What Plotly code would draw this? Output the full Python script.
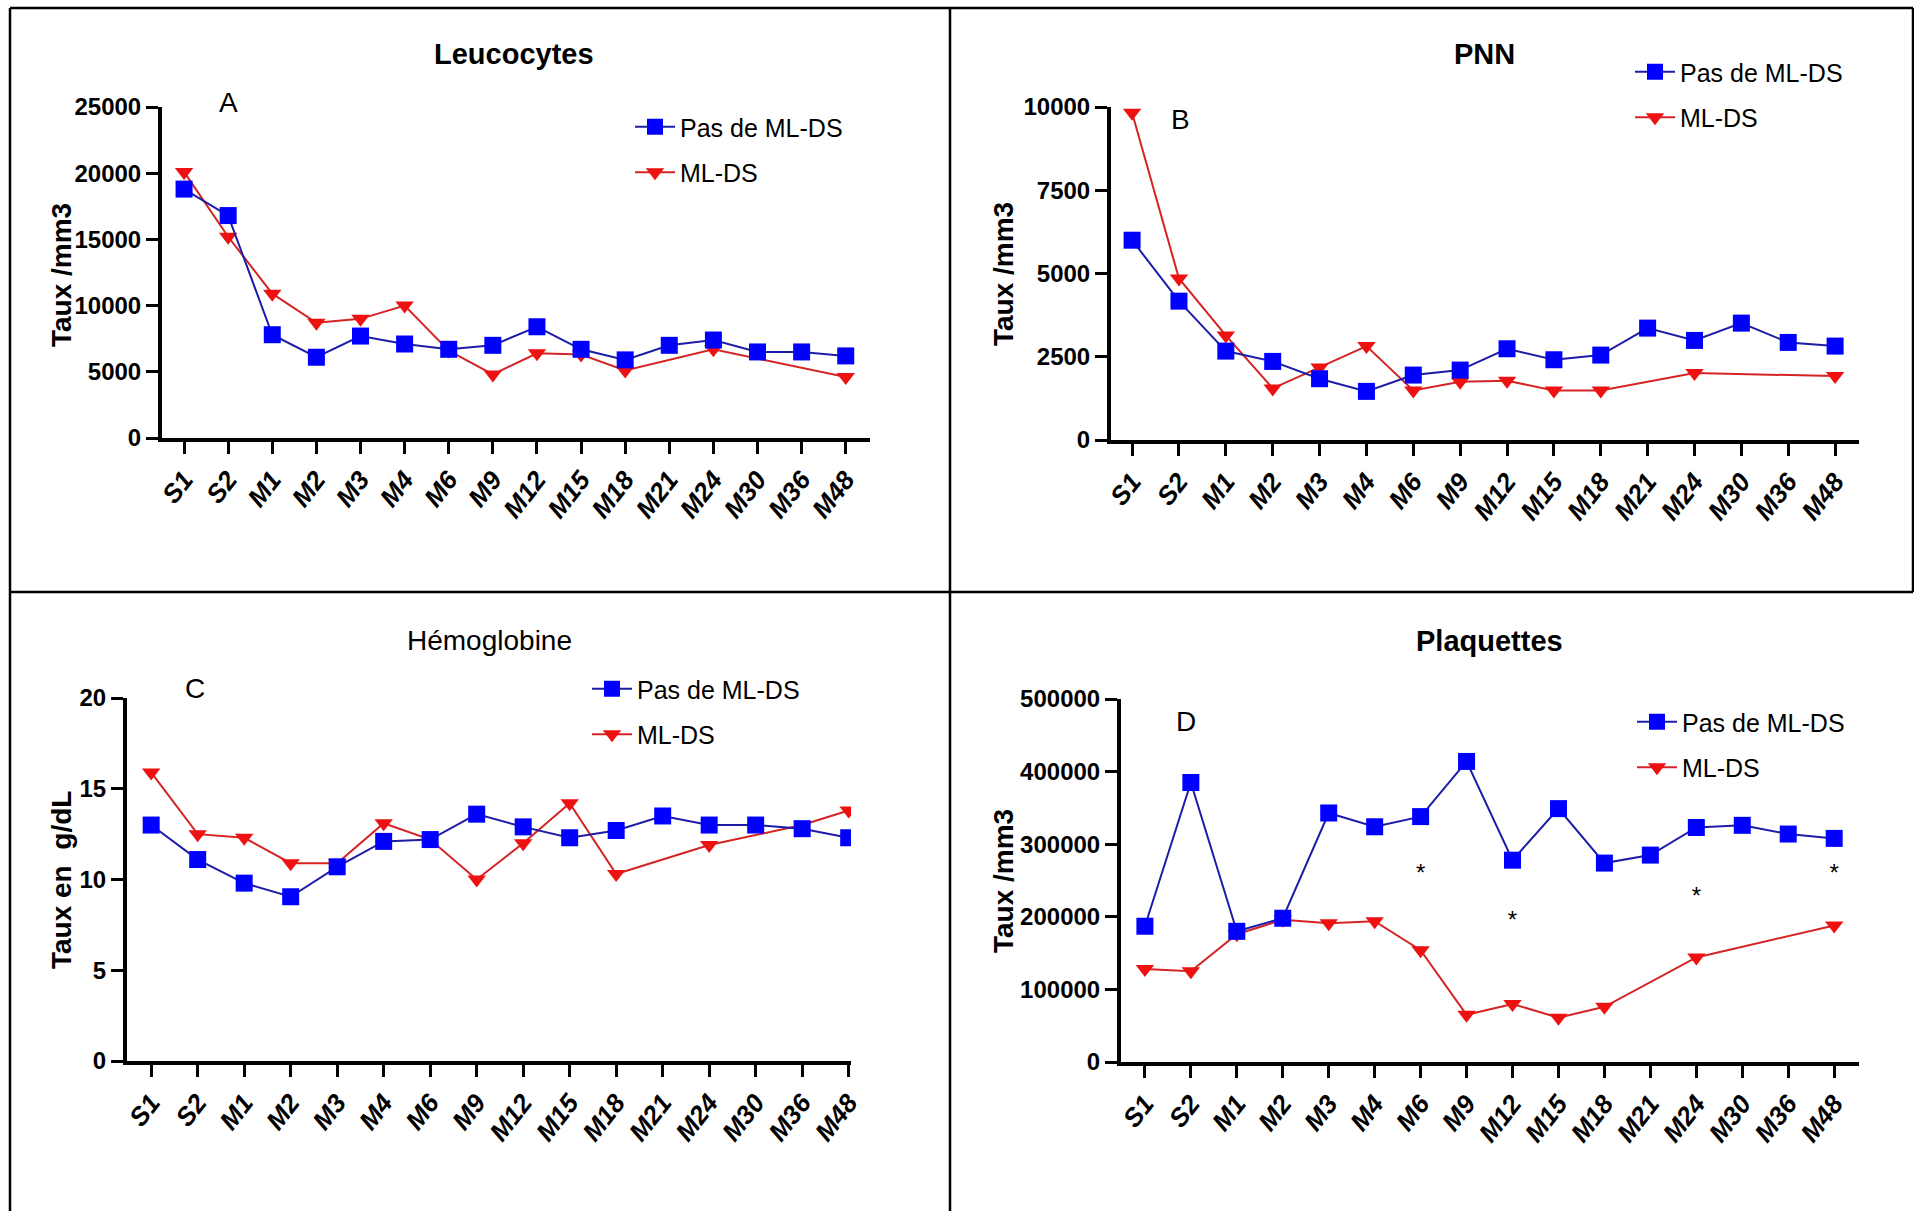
import plotly.graph_objects as go

# ---------------- data ----------------
cats = ["S1", "S2", "M1", "M2", "M3", "M4", "M6", "M9", "M12", "M15",
        "M18", "M21", "M24", "M30", "M36", "M48"]

leuco_no = [18800, 16800, 7800, 6100, 7700, 7100, 6700, 7000, 8400, 6700,
            5900, 7000, 7400, 6500, 6500, 6200]
leuco_ml = [20100, 15200, 10900, 8700, 9000, 10000, 6600, 4800, 6400, 6300,
            5100, None, 6700, None, None, 4600]

pnn_no = [6000, 4170, 2670, 2360, 1840, 1460, 1950, 2100, 2740, 2410,
          2550, 3360, 2990, 3510, 2930, 2820]
pnn_ml = [9830, 4850, 3140, 1550, 2180, 2820, 1490, 1750, 1780, 1490,
          1490, None, 2010, None, None, 1920]

hb_no = [13.0, 11.1, 9.8, 9.05, 10.7, 12.1, 12.2, 13.6, 12.9, 12.3,
         12.7, 13.5, 13.0, 13.0, 12.8, 12.3]
hb_ml = [15.9, 12.5, 12.3, 10.9, 10.9, 13.1, 12.2, 10.0, 12.0, 14.2,
         10.3, None, 11.9, None, 13.0, 13.8]

plq_no = [187000, 385000, 180000, 198000, 343000, 324000, 338000, 414000, 278000, 349000,
          274000, 285000, 323000, 326000, 314000, 308000]
plq_ml = [128000, 125000, 176000, 196000, 191000, 194000, 154000, 65000, 80000, 61000,
          76000, None, 144000, None, None, 188000]

star_cats = ["M6", "M12", "M24", "M48"]
star_vals = [257000, 193000, 226000, 257000]

titles = ["Leucocytes", "PNN", "Hémoglobine", "Plaquettes"]
title_bold = [True, True, False, True]
letters = ["A", "B", "C", "D"]
ytitles = ["Taux /mm3", "Taux /mm3", "Taux en  g/dL", "Taux /mm3"]
series_no = [leuco_no, pnn_no, hb_no, plq_no]
series_ml = [leuco_ml, pnn_ml, hb_ml, plq_ml]
yranges = [[0, 25000], [0, 10000], [0, 20], [0, 500000]]
dticks = [5000, 2500, 5, 100000]
name_no = "Pas de ML-DS"
name_ml = "ML-DS"

# ---------------- layout geometry (pixels) ----------------
W, H = 1914, 1211
def px(x): return x / W
def py(y): return 1 - y / H

geo = [
    dict(x0=162, x1=870, yt=107, yb=438, xr=[-0.5, 15.55], title=(514, 54), letter=(228, 103),
         ytl=(61, 275), leg=(686, 126)),
    dict(x0=1111, x1=1859, yt=107, yb=440, xr=[-0.45, 15.51], title=(1484, 54), letter=(1180, 119),
         ytl=(1004, 274), leg=(1686, 71)),
    dict(x0=127, x1=851, yt=698, yb=1061, xr=[-0.52, 15.05], title=(490, 640), letter=(195, 688),
         ytl=(61, 880), leg=(643, 688)),
    dict(x0=1121, x1=1859, yt=699, yb=1062, xr=[-0.52, 15.54], title=(1489, 641), letter=(1186, 721),
         ytl=(1004, 881), leg=(1688, 721)),
]

SANS = "Liberation Sans, Arial, sans-serif"
BLUE = "#0000ff"
BLUE_LINE = "#1c1ca8"
RED = "#ee1111"
RED_LINE = "#d42424"

fig = go.Figure()
layout = dict(width=W, height=H, margin=dict(l=0, r=0, t=0, b=0, pad=0, autoexpand=False),
              paper_bgcolor="white", plot_bgcolor="white", showlegend=True)
annotations = []
shapes = []

for i in range(4):
    g = geo[i]
    sfx = "" if i == 0 else str(i + 1)
    xa, ya = "x" + sfx, "y" + sfx
    leg = "legend" + sfx
    # red first so blue squares sit on top
    fig.add_trace(go.Scatter(
        x=cats, y=series_ml[i], name=name_ml, mode="lines+markers", connectgaps=True,
        line=dict(color=RED_LINE, width=2),
        marker=dict(symbol="triangle-down", size=16, color=RED),
        xaxis=xa, yaxis=ya, legend=leg, legendgroup="ml%d" % i, legendrank=2))
    fig.add_trace(go.Scatter(
        x=cats, y=series_no[i], name=name_no, mode="lines+markers", connectgaps=True,
        line=dict(color=BLUE_LINE, width=2),
        marker=dict(symbol="square", size=17, color=BLUE),
        xaxis=xa, yaxis=ya, legend=leg, legendgroup="no%d" % i, legendrank=1))

    layout["xaxis" + sfx] = dict(
        domain=[px(g["x0"]), px(g["x1"])], anchor=ya, type="category", automargin=False,
        categoryorder="array", categoryarray=cats, range=g["xr"],
        showline=True, linecolor="black", linewidth=4, showgrid=False, zeroline=False,
        ticks="outside", ticklen=12, tickwidth=3, tickcolor="black",
        tickangle=-52, tickfont=dict(family=SANS, size=26, color="black",
                                     weight="bold", style="italic"))
    layout["yaxis" + sfx] = dict(
        domain=[py(g["yb"]), py(g["yt"])], anchor=xa, range=yranges[i], dtick=dticks[i],
        tick0=0, tickformat="d", automargin=False,
        showline=True, linecolor="black", linewidth=4, showgrid=False, zeroline=False,
        ticks="outside", ticklen=12, tickwidth=3, tickcolor="black",
        tickfont=dict(family=SANS, size=24, color="black", weight="bold"))
    layout[leg] = dict(
        x=px(g["leg"][0] - 56), y=py(g["leg"][1] - 22), xanchor="left", yanchor="top",
        bgcolor="rgba(0,0,0,0)", font=dict(family=SANS, size=25, color="black"),
        tracegroupgap=10, itemwidth=40)

    annotations.append(dict(x=px(g["title"][0]), y=py(g["title"][1]), xref="paper", yref="paper",
                            text=titles[i], showarrow=False, xanchor="center", yanchor="middle",
                            font=dict(family=SANS, size=29 if title_bold[i] else 28, color="black",
                                      weight="bold" if title_bold[i] else "normal")))
    annotations.append(dict(x=px(g["letter"][0]), y=py(g["letter"][1]), xref="paper", yref="paper",
                            text=letters[i], showarrow=False, xanchor="center", yanchor="middle",
                            font=dict(family=SANS, size=28, color="black")))
    annotations.append(dict(x=px(g["ytl"][0]), y=py(g["ytl"][1]), xref="paper", yref="paper",
                            text=ytitles[i], showarrow=False, textangle=-90,
                            xanchor="center", yanchor="middle",
                            font=dict(family=SANS, size=28, color="black", weight="bold")))

# asterisks (significance marks) on the platelets panel
fig.add_trace(go.Scatter(x=star_cats, y=star_vals, mode="text", text=["*"] * len(star_cats),
                         textposition="middle center", textfont=dict(family=SANS, size=24, color="black"),
                         xaxis="x4", yaxis="y4", showlegend=False, hoverinfo="skip"))

# table-like panel borders
bw = 2.5
for (x0, y0, x1, y1) in [(10, 8, 1913, 8), (10, 8, 10, 1211), (1913, 8, 1913, 592),
                         (950, 8, 950, 1211), (10, 592, 1913, 592)]:
    shapes.append(dict(type="line", xref="paper", yref="paper",
                       x0=px(x0), y0=py(y0), x1=px(x1), y1=py(y1),
                       line=dict(color="black", width=bw)))

layout["annotations"] = annotations
layout["shapes"] = shapes
fig.update_layout(**layout)

# pin the figure to the page's top-left corner so it fills the window exactly
pin = ("document.body.style.margin='0';"
       "document.body.style.overflow='hidden';"
       "var d=document.getElementById('{plot_id}');"
       "d.style.position='fixed';d.style.left='0px';d.style.top='0px';")
fig.write_html("out.html", post_script=pin, config={"displayModeBar": False})
